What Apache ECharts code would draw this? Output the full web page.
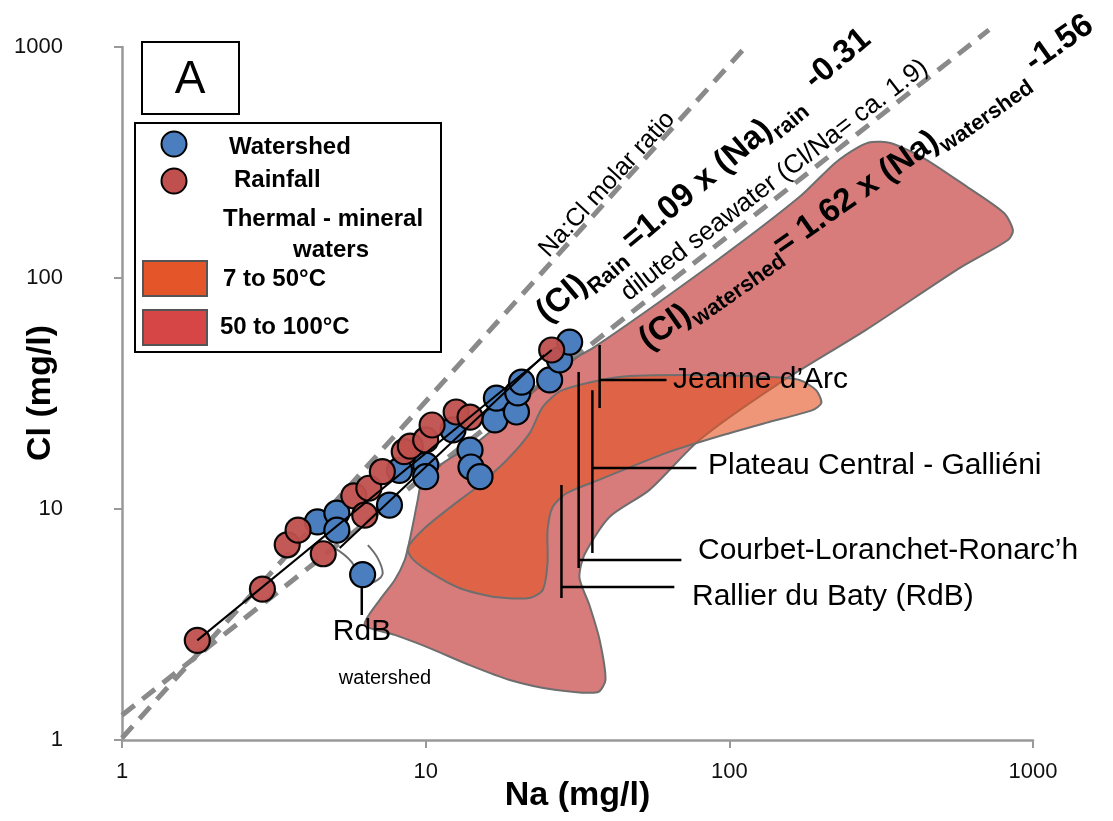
<!DOCTYPE html>
<html>
<head>
<meta charset="utf-8">
<script src="https://cdn.jsdelivr.net/npm/echarts/dist/echarts.min.js"></script>
<style>
  html, body { margin: 0; padding: 0; background: #fff; }
  #chart { width: 1113px; height: 821px; }
</style>
</head>
<body>
<div id="chart"></div>
<script>
// --- data (Na, Cl in mg/l) ---
const watershedNa = [4.4, 5.1, 5.1, 6.2, 7.6, 8.2, 10.0, 10.0, 12.3, 14.0, 14.1, 15.1, 16.9, 17.1, 19.9, 20.1, 20.7, 25.6, 27.6, 29.8]
const watershedCl = [8.8, 9.6, 8.1, 5.2, 10.4, 14.7, 15.5, 13.8, 22.0, 18.0, 15.2, 13.8, 24.3, 30.2, 26.3, 31.8, 35.4, 36.2, 44.2, 52.8]

const rainNa = [1.77, 2.9, 3.5, 3.8, 4.6, 5.8, 6.3, 6.5, 7.2, 8.5, 8.9, 10.0, 10.5, 12.6, 14.0, 26.0]
const rainCl = [2.7, 4.5, 7.0, 8.1, 6.4, 11.4, 9.4, 12.3, 14.5, 17.7, 18.7, 19.9, 23.1, 26.3, 25.0, 48.8]

// regression lines (end points)
const rainFitNa = [1.77, 26.0]
const rainFitCl = [2.7, 48.8]
const shedFitNa = [5.21, 24.6]
const shedFitCl = [6.78, 46.4]

// reference dashed lines (end points)
const molarNa = [1, 113]
const molarCl = [1.02, 1000]
const seawaterNa = [1, 716]
const seawaterCl = [1.28, 1186]

// thermal-mineral water fields (outline vertices)
const hotNa = [6.30, 7.06, 7.91, 8.53, 8.86, 9.14, 9.41, 9.77, 11.55, 15.1, 20.4, 26.6, 36.0, 91.4, 170, 223, 266, 295, 339, 431, 607, 803, 859, 827, 571, 282, 143, 79.7, 54.6, 40.3, 33.3, 32.1, 34.6, 37.4, 39.1, 36.8, 26.6, 18.9, 13.95, 10.3, 7.91]
const hotCl = [3.15, 4.04, 4.93, 6.01, 7.34, 8.96, 10.9, 13.4, 16.0, 19.9, 28.2, 40.0, 50.3, 119.7, 224, 315, 369, 388, 384, 334, 248, 191, 161, 146, 110, 59.6, 34.4, 19.9, 12.1, 9.23, 6.32, 5.03, 3.84, 2.71, 1.82, 1.61, 1.65, 1.82, 2.11, 2.50, 2.85]

const warmNa = [8.73, 9.93, 12.9, 14.7, 18.5, 22.0, 24.3, 28.2, 43.5, 79.7, 132, 170, 193, 201, 188, 132, 90.6, 62.1, 37.4, 29.1, 26.2, 25.2, 25.2, 24.3, 22.0, 16.9, 12.9, 10.3, 9.0]
const warmCl = [6.78, 8.27, 10.9, 12.4, 16.3, 21.3, 27.7, 32.7, 37.3, 38.0, 37.3, 36.2, 32.7, 28.8, 26.8, 23.6, 20.5, 17.5, 13.4, 11.7, 10.2, 8.11, 5.84, 4.46, 4.12, 4.16, 4.55, 5.34, 6.13]

// RdB watershed envelope
const rdbLoopNa = [4.94, 5.7, 6.25, 7.22, 6.95, 6.45]
const rdbLoopCl = [6.85, 5.9, 4.69, 5.28, 6.13, 6.98]

// leader lines: Jeanne d'Arc, Plateau Central, Courbet, RdB, RdB watershed
const stemNa = [37.4, 35.4, 31.9, 28.0, 6.16]
const stemTop = [51.3, 32.7, 39.2, 12.7, 4.6]
const stemBottom = [27.4, 6.45, 5.55, 4.12, 3.48]
const armCl = [36.2, 15.05, 6.01, 4.60]
const armEndNa = [62.1, 77.9, 69.5, 65.9]

const tickValues = [1, 10, 100, 1000]

const FONT = '"Liberation Sans", Arial, sans-serif'
const BLUE = '#4A7EBF'
const RED = '#C0504D'

const zip = (a, b) => a.map((v, i) => [v, b[i]])

const lineSeries = (na, cl, style, z, extra) => Object.assign({
  type: 'line',
  data: zip(na, cl),
  symbol: 'none',
  silent: true,
  lineStyle: style,
  z: z
}, extra || {})

const fieldSeries = (na, cl, fill, z) => ({
  type: 'custom',
  silent: true,
  z: z,
  data: [[na[0], cl[0]]],
  renderItem: (params, api) => ({
    type: 'polygon',
    shape: { points: na.map((v, i) => api.coord([v, cl[i]])), smooth: 0.25 },
    style: { fill: fill, stroke: '#6e6e6e', lineWidth: 2 }
  })
})

const leaders = []
stemNa.forEach((x, i) => {
  leaders.push(lineSeries([x, x], [stemTop[i], stemBottom[i]], { color: '#000', width: 2.5 }, 7))
  if (i < armCl.length) {
    leaders.push(lineSeries([x, armEndNa[i]], [armCl[i], armCl[i]], { color: '#000', width: 2.5 }, 7))
  }
})

const dashStyle = { color: '#8a8a8a', width: 5, type: [16, 10] }

const chart = echarts.init(document.getElementById('chart'))

const txt = (x, y, text, size, extra) => ({
  type: 'text', x: x, y: y, z: 100,
  style: Object.assign({ text: text, fontSize: size, fontFamily: FONT, fill: '#000', verticalAlign: 'middle' }, extra || {})
})

const eqRich = {
  m: { fontSize: 33, fontWeight: 'bold', fontFamily: FONT, lineHeight: 46, verticalAlign: 'middle' },
  s: { fontSize: 22, fontWeight: 'bold', fontFamily: FONT, lineHeight: 24, verticalAlign: 'bottom' },
  e: { fontSize: 33, fontWeight: 'bold', fontFamily: FONT, lineHeight: 24, verticalAlign: 'top' }
}

chart.setOption({
  animation: false,
  textStyle: { fontFamily: FONT },
  grid: { left: 122, right: 80, top: 47, bottom: 81, outerBoundsMode: 'none' },
  xAxis: {
    type: 'log', logBase: 10, min: tickValues[0], max: tickValues[3],
    name: 'Na (mg/l)', nameLocation: 'middle', nameGap: 39, nameMoveOverlap: false,
    nameTextStyle: { fontSize: 34, fontWeight: 'bold', color: '#000' },
    axisLine: { lineStyle: { color: '#999', width: 2.5 } },
    axisTick: { length: 8, lineStyle: { color: '#999', width: 2 } },
    splitLine: { show: false },
    axisLabel: { fontSize: 22, color: '#111', margin: 21, formatter: v => String(Math.round(v)) }
  },
  yAxis: {
    type: 'log', logBase: 10, min: tickValues[0], max: tickValues[3],
    axisLine: { lineStyle: { color: '#999', width: 2.5 } },
    axisTick: { length: 8, lineStyle: { color: '#999', width: 2 } },
    splitLine: { show: false },
    axisLabel: { fontSize: 22, color: '#111', margin: 59, formatter: v => String(Math.round(v)) }
  },
  series: [
    lineSeries(molarNa, molarCl, dashStyle, 1, { clip: false }),
    lineSeries(seawaterNa, seawaterCl, dashStyle, 1, { clip: false }),
    fieldSeries(hotNa, hotCl, 'rgba(196,60,60,0.68)', 2),
    fieldSeries(warmNa, warmCl, 'rgba(229,85,39,0.62)', 3),
    lineSeries(rdbLoopNa, rdbLoopCl, { color: '#6e6e6e', width: 2 }, 4, { smooth: 0.4 }),
    ...leaders,
    {
      name: 'Watershed', type: 'scatter', z: 8, symbolSize: 25,
      data: zip(watershedNa, watershedCl),
      itemStyle: { color: BLUE, borderColor: '#000', borderWidth: 2.2, opacity: 1 }
    },
    {
      name: 'Rainfall', type: 'scatter', z: 9, symbolSize: 25,
      data: zip(rainNa, rainCl),
      itemStyle: { color: RED, borderColor: '#000', borderWidth: 2.2, opacity: 0.95 }
    },
    lineSeries(rainFitNa, rainFitCl, { color: '#000', width: 2 }, 10),
    lineSeries(shedFitNa, shedFitCl, { color: '#000', width: 2 }, 10)
  ],
  graphic: [
    // y axis title
    { type: 'text', z: 100, x: 41, y: 393, rotation: Math.PI / 2,
      style: { text: 'Cl (mg/l)', fontSize: 34, fontWeight: 'bold', fontFamily: FONT, fill: '#000', align: 'center', verticalAlign: 'middle' } },
    // panel letter
    { type: 'rect', z: 100, shape: { x: 142, y: 42, width: 97, height: 72 }, style: { fill: '#fff', stroke: '#000', lineWidth: 2 } },
    txt(190, 80, 'A', 46, { align: 'center' }),
    // legend
    { type: 'rect', z: 100, shape: { x: 135, y: 123, width: 306, height: 229 }, style: { fill: '#fff', stroke: '#000', lineWidth: 2 } },
    { type: 'circle', z: 101, shape: { cx: 174, cy: 144, r: 12.5 }, style: { fill: BLUE, stroke: '#000', lineWidth: 2 } },
    txt(229, 147, 'Watershed', 24, { fontWeight: 'bold' }),
    { type: 'circle', z: 101, shape: { cx: 174, cy: 181, r: 12.5 }, style: { fill: RED, stroke: '#000', lineWidth: 2 } },
    txt(234, 180, 'Rainfall', 24, { fontWeight: 'bold' }),
    txt(223, 219, 'Thermal - mineral', 24, { fontWeight: 'bold' }),
    txt(331, 250, 'waters', 24, { fontWeight: 'bold', align: 'center' }),
    { type: 'rect', z: 101, shape: { x: 143, y: 261, width: 64, height: 35 }, style: { fill: '#E5552A', stroke: '#555', lineWidth: 2 } },
    txt(223, 279, '7 to 50°C', 24, { fontWeight: 'bold' }),
    { type: 'rect', z: 101, shape: { x: 143, y: 310, width: 64, height: 35 }, style: { fill: '#D64646', stroke: '#555', lineWidth: 2 } },
    txt(220, 327, '50 to 100°C', 24, { fontWeight: 'bold' }),
    // field names
    txt(673, 380, 'Jeanne d\u2019Arc', 30),
    txt(708, 466, 'Plateau Central - Galliéni', 30),
    txt(698, 551, 'Courbet-Loranchet-Ronarc\u2019h', 30),
    txt(692, 597, 'Rallier du Baty (RdB)', 30),
    txt(362, 632, 'RdB', 30, { align: 'center' }),
    txt(385, 678, 'watershed', 20, { align: 'center' }),
    // rotated annotations
    { type: 'text', z: 100, x: 553, y: 262, rotation: 47.5 * Math.PI / 180,
      style: { text: 'Na:Cl molar ratio', fontSize: 25, fontFamily: FONT, fill: '#000', verticalAlign: 'bottom' } },
    { type: 'text', z: 100, x: 632, y: 306, rotation: 37.5 * Math.PI / 180,
      style: { text: 'diluted seawater (Cl/Na= ca. 1.9)', fontSize: 26, fontFamily: FONT, fill: '#000', verticalAlign: 'bottom' } },
    { type: 'text', z: 100, x: 556, y: 334, rotation: 40 * Math.PI / 180,
      style: { text: '{m|(Cl)}{s|Rain}{m| =1.09 x (Na)}{s|rain}{e|  -0.31}', rich: eqRich, fill: '#000', verticalAlign: 'bottom' } },
    { type: 'text', z: 100, x: 656, y: 362, rotation: 35 * Math.PI / 180,
      style: { text: '{m|(Cl)}{s|watershed}{m|= 1.62 x (Na)}{s|watershed}{e| -1.56}', rich: eqRich, fill: '#000', verticalAlign: 'bottom' } }
  ]
})
</script>
</body>
</html>
